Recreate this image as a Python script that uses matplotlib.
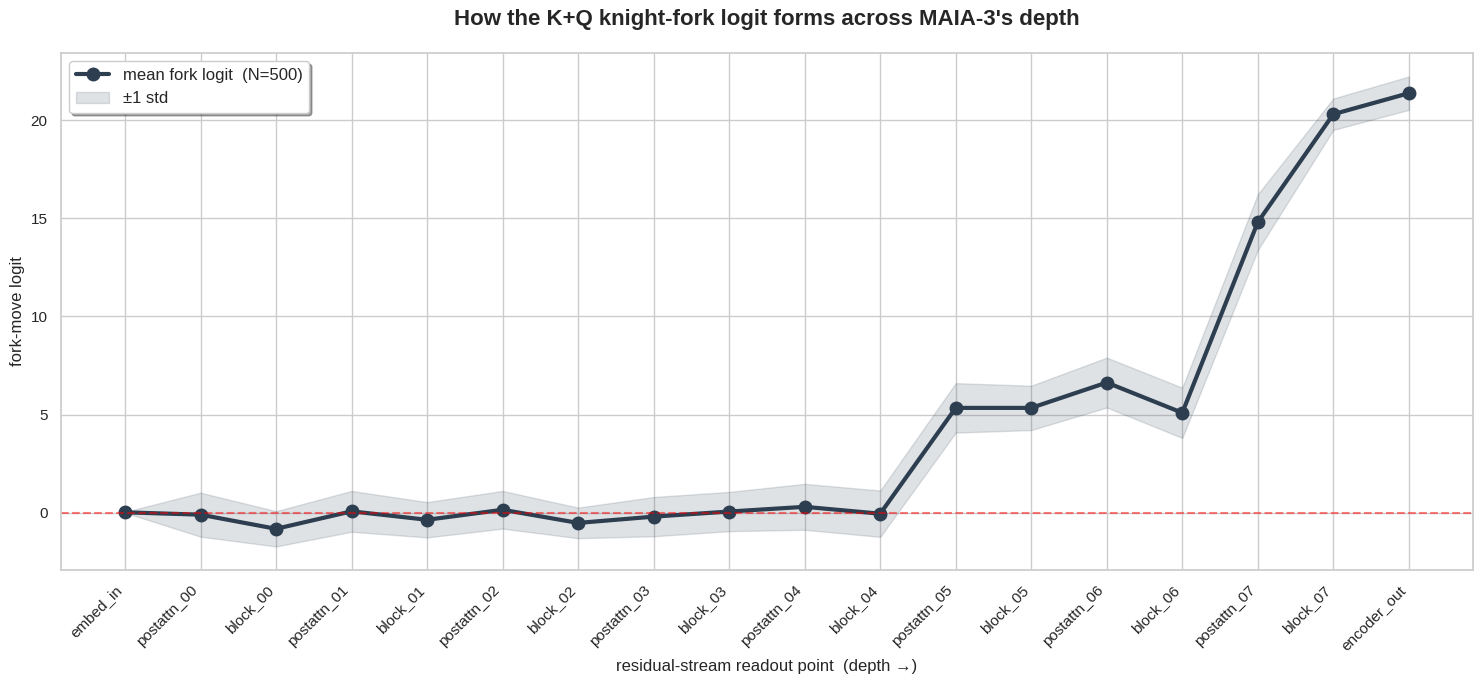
import numpy as np
import matplotlib
matplotlib.use("Agg")
import matplotlib.pyplot as plt
import seaborn as sns

# readout points along the residual stream
layers = ["embed_in", "postattn_00", "block_00", "postattn_01", "block_01",
          "postattn_02", "block_02", "postattn_03", "block_03", "postattn_04",
          "block_04", "postattn_05", "block_05", "postattn_06", "block_06",
          "postattn_07", "block_07", "encoder_out"]
mean_logit = [0.02, -0.10, -0.82, 0.07, -0.36, 0.15, -0.52, -0.20, 0.06, 0.30,
              -0.05, 5.34, 5.34, 6.63, 5.09, 14.80, 20.30, 21.37]
std_logit = [0.02, 1.12, 0.90, 1.04, 0.90, 0.96, 0.78, 1.00, 1.00, 1.17,
             1.18, 1.26, 1.13, 1.27, 1.28, 1.42, 0.80, 0.85]


def main():
    sns.set_theme(style="whitegrid")
    plt.rcParams["font.family"] = ["Liberation Sans", "DejaVu Sans"]
    fig, ax = plt.subplots(figsize=(14.84, 6.84), dpi=100)

    x = np.arange(len(layers))
    mu = np.array(mean_logit)
    sd = np.array(std_logit)

    ax.fill_between(x, mu - sd, mu + sd, color="#2c3e50", alpha=0.15, label="±1 std")
    ax.plot(x, mu, "-o", color="#2c3e50", linewidth=3, markersize=9,
            label="mean fork logit  (N=500)")
    ax.axhline(0, color="red", linestyle="--", alpha=0.5, linewidth=1.5)

    ax.set_xticks(x)
    ax.set_xticklabels(layers, rotation=45, ha="right", fontsize=11)
    ax.tick_params(axis="y", labelsize=11)
    ax.set_xlim(-0.85, len(layers) - 1 + 0.85)
    ax.set_xlabel("residual-stream readout point  (depth →)", fontsize=12)
    ax.set_ylabel("fork-move logit", fontsize=12)
    ax.set_title("How the K+Q knight-fork logit forms across MAIA-3's depth",
                 fontsize=16, fontweight="bold", pad=20)

    handles, labels = ax.get_legend_handles_labels()
    ax.legend(handles[::-1], labels[::-1], loc="upper left", fontsize=12,
              frameon=True, shadow=True, fancybox=True)

    fig.subplots_adjust(left=0.041, right=0.9926, top=0.9225, bottom=0.1667)
    plt.savefig("out.png", dpi=100)


if __name__ == "__main__":
    main()
